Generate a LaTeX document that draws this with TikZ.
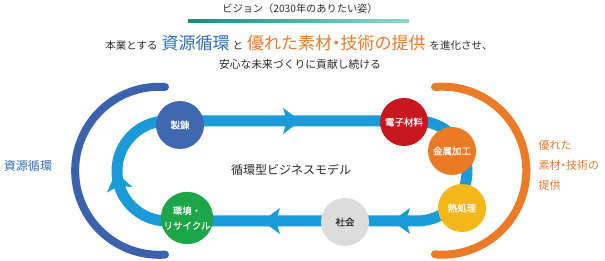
\documentclass[tikz,border=0pt]{standalone}
\usepackage{fontspec}
\setmainfont{Noto Sans CJK JP}
\newfontfamily\jpmed[FakeBold=0.35]{Noto Sans CJK JP}
\definecolor{loopblue}{HTML}{1A9AD6}
\definecolor{seirenblue}{HTML}{3E68B1}
\definecolor{denshired}{HTML}{C8171E}
\definecolor{kinzokuorange}{HTML}{EB7A24}
\definecolor{netsuyellow}{HTML}{F5B818}
\definecolor{shakaigray}{HTML}{DCDCDC}
\definecolor{kankyogreen}{HTML}{1DA648}
\definecolor{arcblue}{HTML}{3C62AE}
\definecolor{arcorange}{HTML}{EC7A26}
\definecolor{txtblue}{HTML}{2E6DB8}
\definecolor{txtorange}{HTML}{EE7A2A}
\definecolor{txtdark}{HTML}{2B2B2B}
\definecolor{tealdark}{HTML}{17897F}
\definecolor{teallight}{HTML}{8FD8D0}
\newcommand{\nardot}{\kern-0.25em・\kern-0.25em}
\begin{document}
\begin{tikzpicture}[x=1pt,y=-1pt,
  stage/.style={circle, minimum size=48pt, inner sep=0pt, text=white,
    font=\jpmed\fontsize{9.5}{11}\selectfont},
  flowarrow/.pic={\fill[loopblue] (10,0) -- (-8,13) -- (-4,0) -- (-8,-13) -- cycle;},
  bigarc/.style={line width=8pt, line cap=round}
]
\useasboundingbox (0,0) rectangle (605,261);
\fill[white] (0,0) rectangle (605,261);

% title
\node[text=txtdark, font=\fontsize{10.2}{12}\selectfont] (title) at (300,9) {ビジョン（2030年のありたい姿）};
\shade[left color=tealdark, right color=teallight] (188,20) rectangle (409,22.5);

\node[text=txtdark, font=\fontsize{10.5}{13}\selectfont] (line2) at (299,43)
  {本業とする\hspace{4pt}{\fontsize{17}{20}\selectfont\color{txtblue}資源循環}\hspace{3pt}と\hspace{4pt}{\fontsize{17}{20}\selectfont\color{txtorange}優れた素材\nardot 技術の提供}\hspace{4pt}を進化させ、};
\node[text=txtdark, font=\fontsize{10.8}{13}\selectfont] (line3) at (300,64) {安心な未来づくりに貢献し続ける};

% big arcs
\draw[bigarc, arcblue] (165,87) arc[start angle=-86, end angle=-274, radius=84];
\draw[bigarc, arcorange] (435,87) arc[start angle=-95, end angle=95, radius=84];

% loop
\draw[loopblue, line width=11pt] (167,121) -- (417,121)
  arc[start angle=-90, end angle=90, radius=50] -- (167,221)
  arc[start angle=90, end angle=270, radius=50] -- cycle;

% arrows
\pic at (291,121) {flowarrow};
\pic[rotate=180] at (272,221) {flowarrow};
\pic[rotate=180] at (402,221) {flowarrow};
\pic[rotate=102] at (118,182) {flowarrow};

% stages
\node[stage, fill=seirenblue] (seiren) at (180,125) {製錬};
\node[stage, fill=denshired] (denshi) at (404,122) {電子材料};
\node[stage, fill=kinzokuorange] (kinzoku) at (452,151) {金属加工};
\node[stage, fill=netsuyellow] (netsu) at (462,208) {熱処理};
\node[stage, fill=shakaigray, text=txtdark] (shakai) at (345,222) {社会};
\node[stage, fill=kankyogreen, minimum size=50pt, align=center,
  font=\jpmed\fontsize{9.5}{15}\selectfont] (kankyo) at (187,218) {環境・\\リサイクル};

% labels
\node[text=txtdark, font=\fontsize{12}{14}\selectfont] (model) at (291,170) {循環型ビジネスモデル};
\node[text=txtblue, font=\fontsize{12}{14}\selectfont] (leftlabel) at (28,166) {資源循環};
\node[text=txtorange, font=\fontsize{11}{20}\selectfont, align=left, anchor=west] (rightlabel) at (535,165) {優れた\\素材\nardot 技術の\\提供};
\end{tikzpicture}
\end{document}
